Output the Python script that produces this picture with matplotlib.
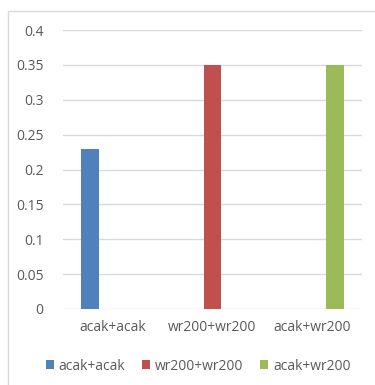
import matplotlib
matplotlib.use("Agg")
import matplotlib.pyplot as plt
from matplotlib.patches import Rectangle
import numpy as np

categories = ["acak+acak", "wr200+wr200", "acak+wr200"]
series_names = ["acak+acak", "wr200+wr200", "acak+wr200"]
series_values = [
    [0.23, 0.0, 0.0],
    [0.0, 0.35, 0.0],
    [0.0, 0.0, 0.35],
]
colors = ["#4f81bd", "#c0504d", "#9bbb59"]
yticks = [0, 0.05, 0.1, 0.15, 0.2, 0.25, 0.3, 0.35, 0.4]
ytick_labels = ["0", "0.05", "0.1", "0.15", "0.2", "0.25", "0.3", "0.35", "0.4"]

W, H = 375, 385
fig = plt.figure(figsize=(W / 100, H / 100), dpi=100)
fig.patch.set_facecolor("white")

# chart area border
fig.patches.append(Rectangle((8 / W, -0.1), 1.2, 1 - 11 / H + 0.1,
                             transform=fig.transFigure, fill=False,
                             edgecolor="#d9d9d9", linewidth=1.0))

ax = fig.add_axes([63 / W, 1 - 309 / H, (362 - 63) / W, (309 - 30) / H])
x = np.arange(len(categories))
bar_w = 0.18
offsets = [-0.225, 0.0, 0.225]
for vals, name, col, off in zip(series_values, series_names, colors, offsets):
    ax.bar(x + off, vals, width=bar_w, color=col, label=name, zorder=3)

ax.set_xlim(-0.5, 2.5)
ax.set_ylim(0, 0.4)
ax.set_yticks(yticks)
ax.set_yticklabels(ytick_labels)
ax.set_xticks(x)
ax.set_xticklabels(categories)
ax.yaxis.grid(True, color="#d9d9d9", linewidth=1.0, zorder=0)
for s in ax.spines.values():
    s.set_visible(False)
ax.tick_params(axis="both", length=0, colors="#595959", labelsize=10)
ax.tick_params(axis="y", pad=14)
ax.tick_params(axis="x", pad=8)
for lab in ax.get_xticklabels() + ax.get_yticklabels():
    lab.set_family("Open Sans")

leg = fig.legend(loc="center", bbox_to_anchor=(198 / W, 1 - 366 / H), ncol=3,
                 frameon=False, handlelength=0.58, handleheight=0.58,
                 handletextpad=0.36, columnspacing=1.2,
                 prop={"family": "Open Sans", "size": 10})
for t in leg.get_texts():
    t.set_color("#595959")

fig.savefig("out.png", dpi=100, facecolor="white")
